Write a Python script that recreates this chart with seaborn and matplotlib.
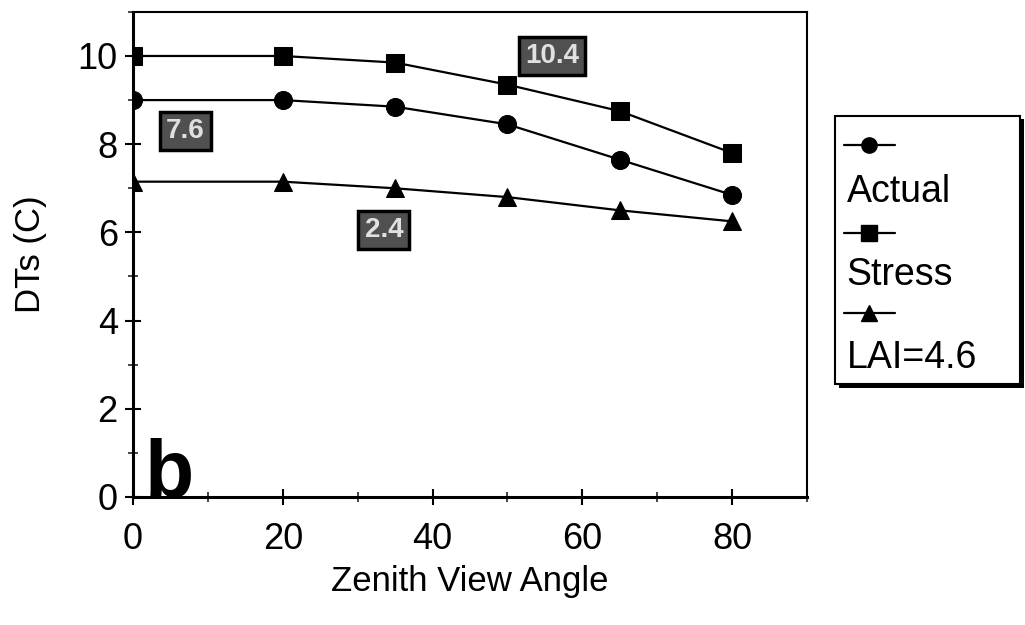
import numpy as np
import pandas as pd
import matplotlib
matplotlib.use("Agg")
import matplotlib.pyplot as plt
import seaborn as sns
from matplotlib.lines import Line2D
from matplotlib.patches import Rectangle
from matplotlib.ticker import MultipleLocator

# data
angles = [0, 20, 35, 50, 65, 80]
actual = [9.0, 9.0, 8.85, 8.45, 7.65, 6.85]
stress = [10.0, 10.0, 9.85, 9.35, 8.75, 7.8]
lai_46 = [7.15, 7.15, 7.0, 6.8, 6.5, 6.25]
series_names = ["Actual", "Stress", "LAI=4.6"]
series_markers = {"Actual": "o", "Stress": "s", "LAI=4.6": "^"}

# box annotations
box_labels = ["7.6", "2.4", "10.4"]
box_x = [7, 33.5, 56]
box_y = [8.3, 6.05, 10.0]

df = pd.DataFrame({
    "angle": angles * 3,
    "dts": actual + stress + lai_46,
    "series": [s for s in series_names for _ in angles],
})

sns.set_style("white")
plt.rcParams["font.family"] = ["Liberation Sans", "DejaVu Sans"]
plt.rcParams["text.color"] = "black"
plt.rcParams["axes.labelcolor"] = "black"

fig = plt.figure(figsize=(10.25, 6.25), dpi=100)
ax = fig.add_axes([0.1298, 0.2048, 0.6575, 0.7762])

sns.lineplot(data=df, x="angle", y="dts", style="series", markers=series_markers,
             dashes=False, color="black", markersize=13, linewidth=1.6,
             markeredgecolor="black", legend=False, ax=ax)

ax.set_xlim(0, 90)
ax.set_ylim(0, 11)
ax.xaxis.set_minor_locator(MultipleLocator(10))
ax.yaxis.set_minor_locator(MultipleLocator(1))
ax.set_xticks([0, 20, 40, 60, 80])
ax.set_yticks([0, 2, 4, 6, 8, 10])
ax.tick_params(axis="both", which="major", direction="inout", length=12, width=1.5,
               labelsize=26, colors="black", bottom=True, left=True)
ax.tick_params(axis="x", which="major", pad=12)
ax.tick_params(axis="y", which="major", pad=5)
ax.tick_params(axis="both", which="minor", direction="inout", length=7, width=1.2,
               bottom=True, left=True)
for side, sp in ax.spines.items():
    sp.set_color("black")
    sp.set_linewidth(2.2 if side in ("left", "bottom") else 1.5)

ax.set_xlabel("Zenith View Angle", fontsize=25, labelpad=6)
ax.set_ylabel("DTs (C)", fontsize=25, labelpad=22)

for t, x, y in zip(box_labels, box_x, box_y):
    ax.text(x, y, t, fontsize=20, fontweight="bold", ha="center", va="center",
            color="#e0e0e0",
            bbox=dict(boxstyle="square,pad=0.22", facecolor="#505050", edgecolor="black", linewidth=2.5))

ax.text(1.6, 0.02, "b", fontsize=58, fontweight="bold", ha="left", va="baseline")

# legend drawn by hand: marker line above each label
lx0, lx1, ly0, ly1 = 0.815, 0.995, 0.385, 0.815
fig.patches.append(Rectangle((lx0 + 0.004, ly0 - 0.006), lx1 - lx0, ly1 - ly0,
                             transform=fig.transFigure, facecolor="black", edgecolor="none"))
fig.patches.append(Rectangle((lx0, ly0), lx1 - lx0, ly1 - ly0, transform=fig.transFigure,
                             facecolor="white", edgecolor="black", linewidth=1.5))
handle_y = [0.768, 0.627, 0.5]
label_y = [0.693, 0.56, 0.428]
for name, yh, yl in zip(series_names, handle_y, label_y):
    fig.add_artist(Line2D([0.823, 0.873], [yh, yh], transform=fig.transFigure, color="black",
                          linewidth=1.6))
    fig.add_artist(Line2D([0.848], [yh], transform=fig.transFigure, color="black",
                          marker=series_markers[name], markersize=11, linestyle="none"))
    fig.text(0.826, yl, name, fontsize=27, ha="left", va="center")

fig.savefig("out.png", dpi=100)
